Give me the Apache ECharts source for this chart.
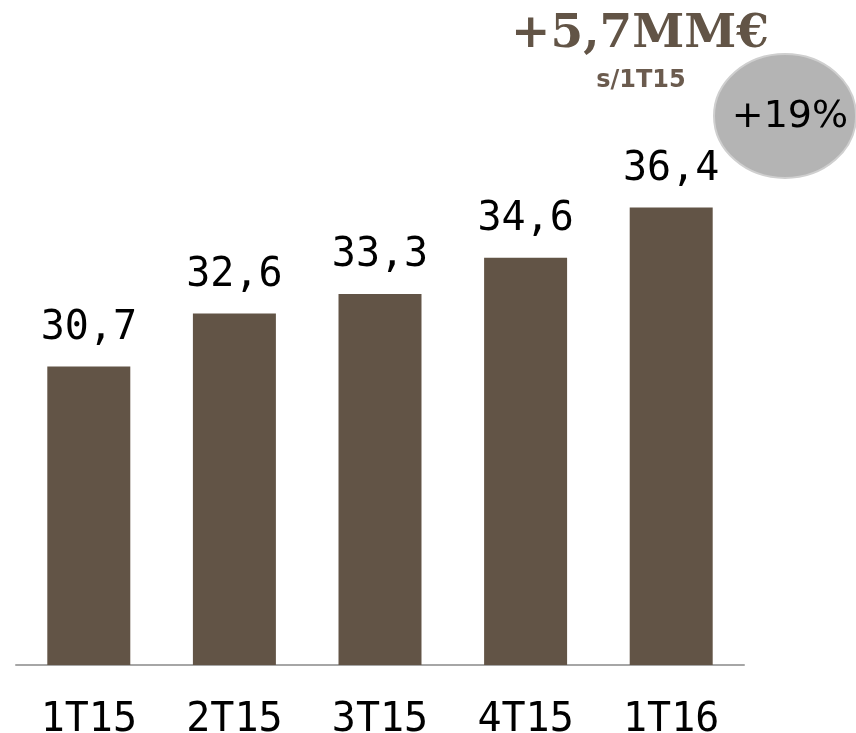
<!DOCTYPE html>
<html>
<head>
<meta charset="utf-8">
<script src="https://cdn.jsdelivr.net/npm/echarts@6/dist/echarts.min.js"></script>
<style>
  html, body { margin: 0; padding: 0; background: #fff; }
  #chart { width: 856px; height: 733px; }
</style>
</head>
<body>
<div id="chart"></div>
<script>
const categories = ['1T15', '2T15', '3T15', '4T15', '1T16'];
const values = [30.7, 32.6, 33.3, 34.6, 36.4];
const headline = '+5,7MM€';
const subline = 's/1T15';
const growth = '+19%';

const colorBar = '#625446';
const colorAxis = '#a6a6a6';
const labelFont = '"DejaVu Sans Mono", monospace';

const chart = echarts.init(document.getElementById('chart'));

chart.setOption({
    animation: false,
    grid: {
        left: 16,
        right: 112,
        top: 107,
        bottom: 68,
        outerBoundsMode: 'none'
    },
    xAxis: {
        type: 'category',
        data: categories,
        axisLine: {lineStyle: {color: colorAxis, width: 2}},
        axisTick: {show: false},
        axisLabel: {
            color: '#000',
            fontFamily: labelFont,
            fontSize: 40,
            margin: 36
        }
    },
    yAxis: {
        type: 'value',
        min: 20,
        max: 40,
        show: false,
        splitLine: {show: false}
    },
    series: [
        {
            type: 'bar',
            data: values,
            barWidth: '57%',
            itemStyle: {color: colorBar},
            label: {
                show: true,
                position: 'top',
                distance: 18,
                color: '#000',
                fontFamily: labelFont,
                fontSize: 40,
                formatter: function (p) {
                    return p.value.toFixed(1).replace('.', ',');
                }
            }
        }
    ],
    graphic: [
        {
            type: 'text',
            x: 640,
            y: 35,
            style: {
                text: headline,
                fill: colorBar,
                font: 'bold 47px "DejaVu Serif", serif',
                align: 'center',
                verticalAlign: 'middle'
            }
        },
        {
            type: 'text',
            x: 641,
            y: 81,
            style: {
                text: subline,
                fill: '#6b5b4e',
                font: 'bold 24px "DejaVu Sans", sans-serif',
                align: 'center',
                verticalAlign: 'middle'
            }
        },
        {
            type: 'ellipse',
            shape: {cx: 785, cy: 116, rx: 71, ry: 62},
            style: {fill: '#b4b4b4', stroke: '#cfcfcf', lineWidth: 2}
        },
        {
            type: 'text',
            x: 790,
            y: 117,
            style: {
                text: growth,
                fill: '#000',
                font: '38px "DejaVu Sans", sans-serif',
                align: 'center',
                verticalAlign: 'middle'
            }
        }
    ]
});
</script>
</body>
</html>
